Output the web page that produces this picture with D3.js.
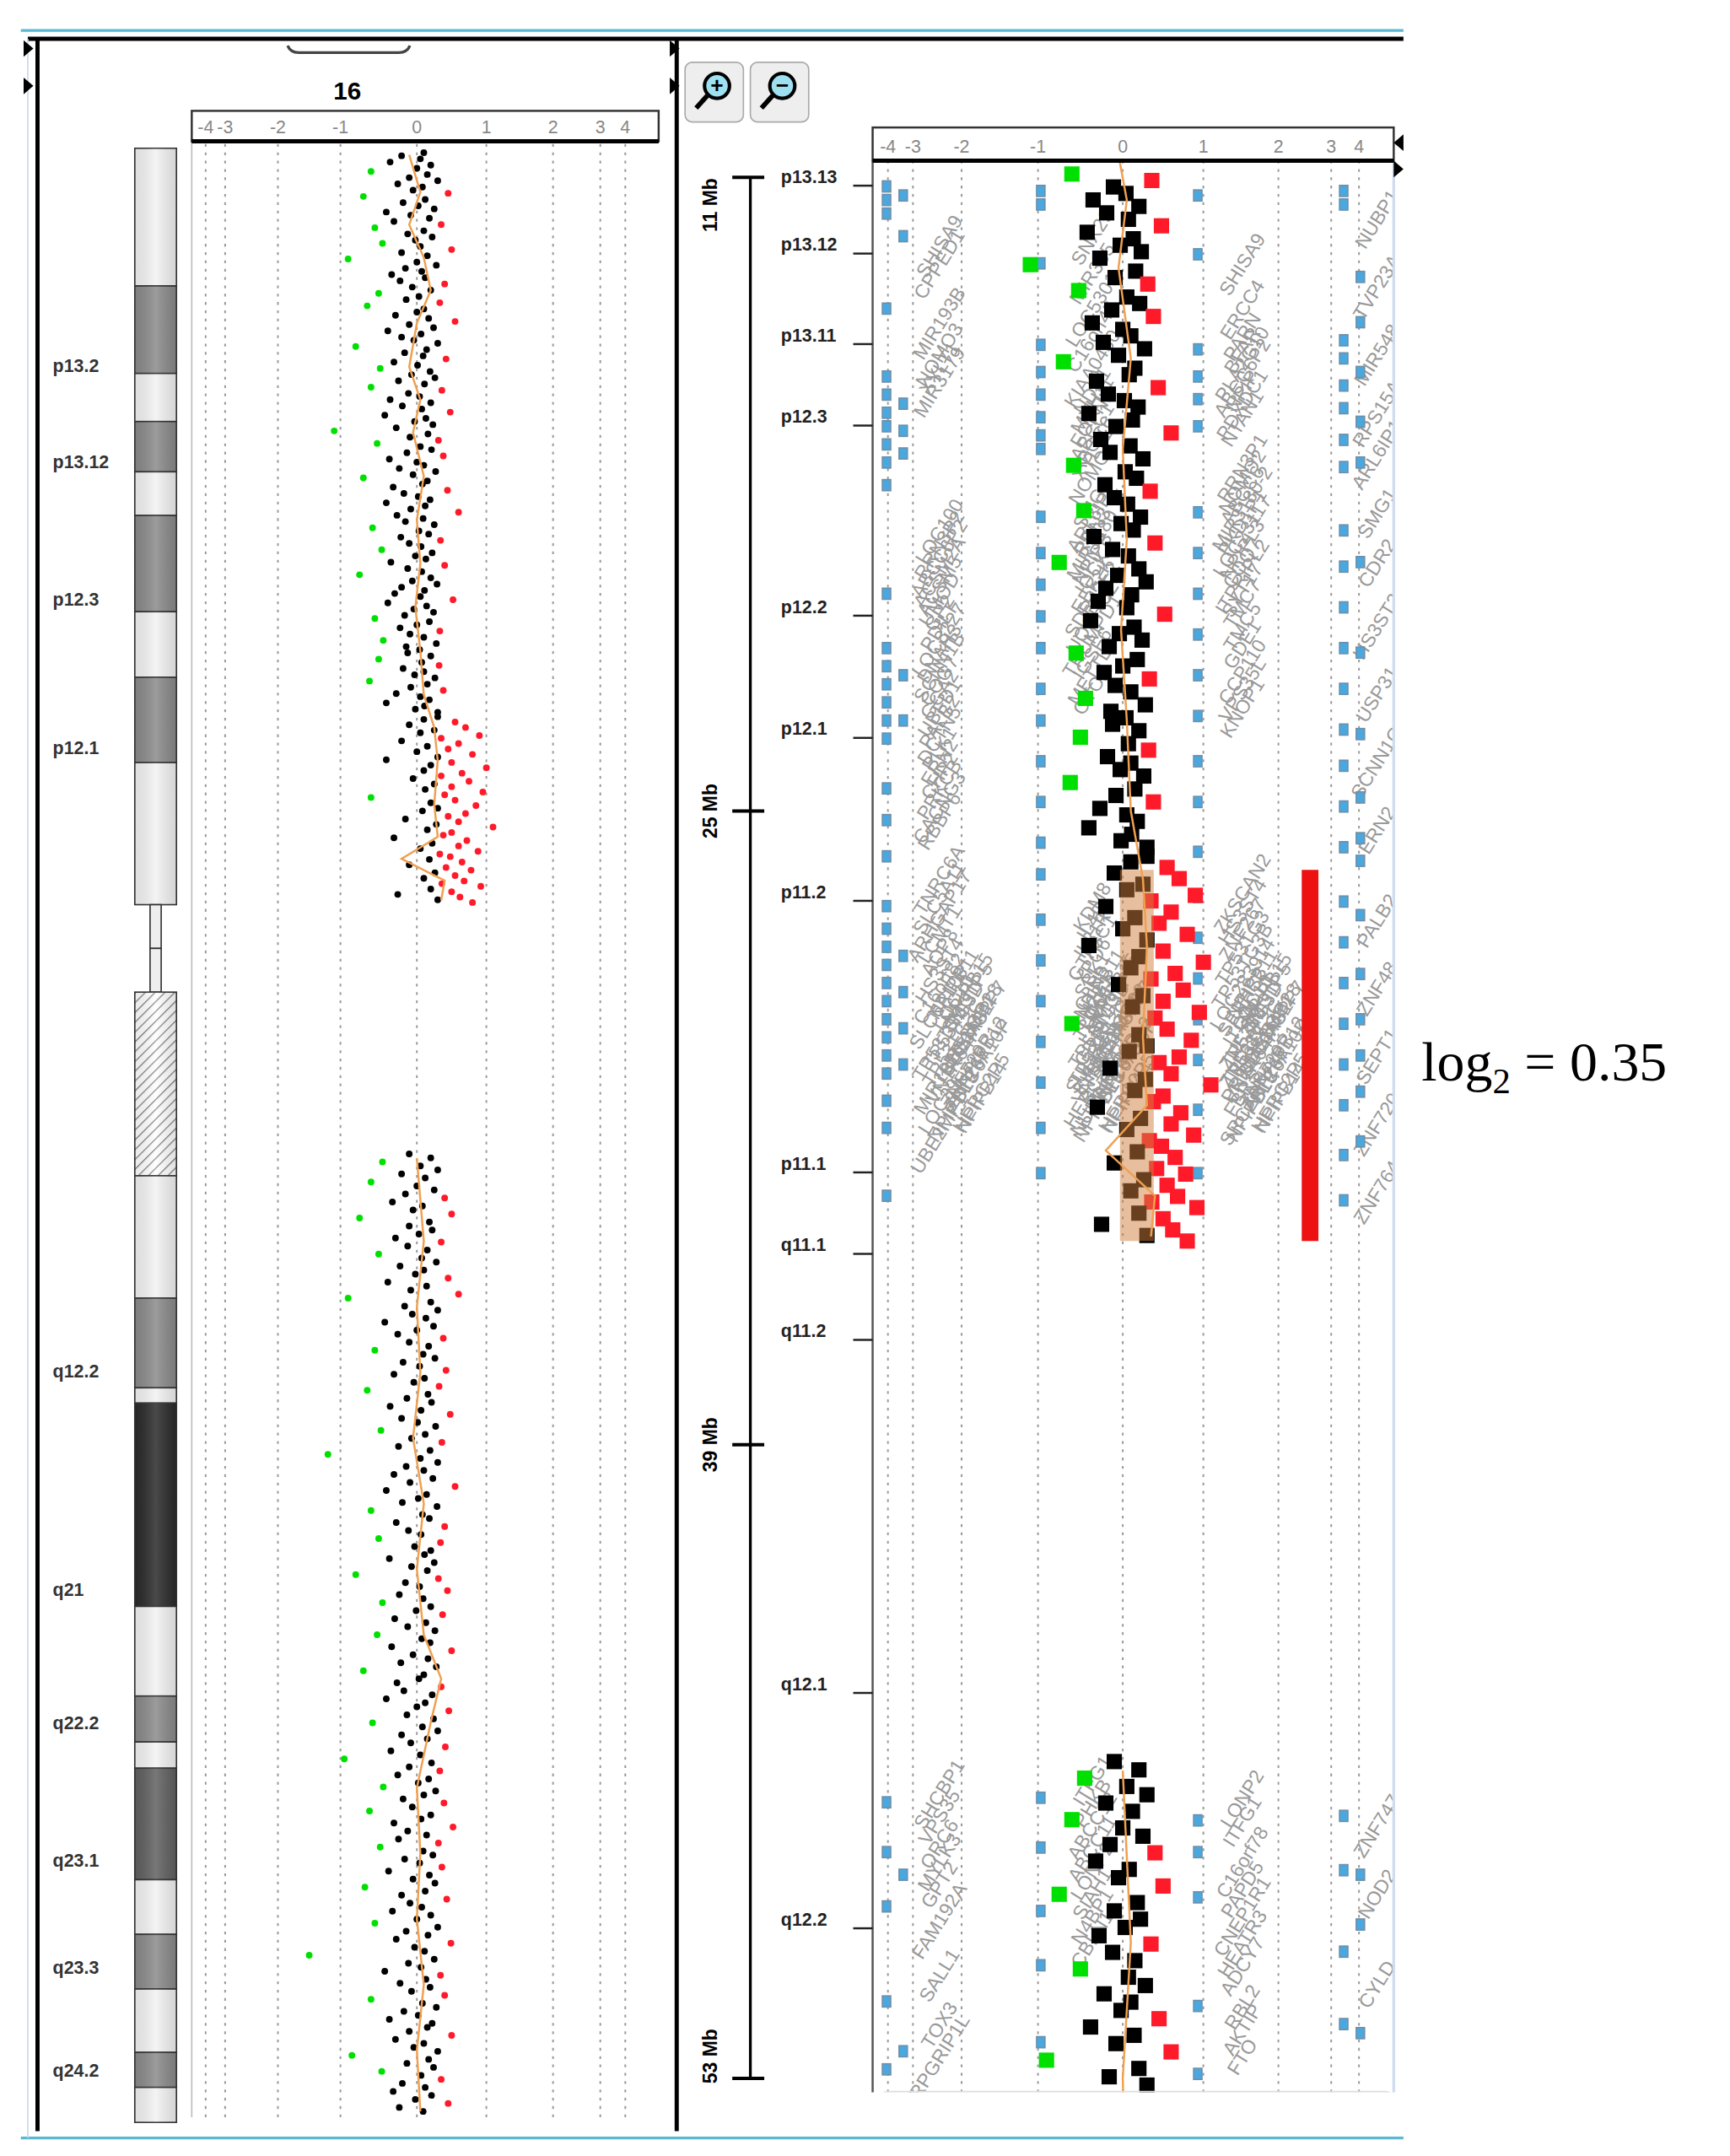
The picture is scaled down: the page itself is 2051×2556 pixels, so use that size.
<!DOCTYPE html>
<html><head><meta charset="utf-8">
<script src="https://cdn.jsdelivr.net/npm/d3@7"></script>
<style>body{margin:0;background:#fff}svg{display:block}</style>
</head><body>
<script>
// ---------- DATA ----------
const tickValues = [-4,-3,-2,-1,0,1,2,3,4];
const tickLabels = ["-4","-3","-2","-1","0","1","2","3","4"];
const bandStart = [0,6.3,10.3,12.5,14.8,16.8,21.2,24.2,28.1,34.6,36.6,38.6,47,52.6,56.7,57.4,66.7,70.8,72.9,74.1,79.2,81.7,84.2,87.1,88.7];
const bandEnd   = [6.3,10.3,12.5,14.8,16.8,21.2,24.2,28.1,34.6,36.6,38.6,47,52.6,56.7,57.4,66.7,70.8,72.9,74.1,79.2,81.7,84.2,87.1,88.7,90.3];
const bandStain = ["gneg","gpos50","gneg","gpos50","gneg","gpos50","gneg","gpos50","gneg","acen","acen","gvar","gneg","gpos50","gneg","gpos100","gneg","gpos50","gneg","gpos75","gneg","gpos50","gneg","gpos50","gneg"];
const leftBandLabels = ["p13.2","p13.12","p12.3","p12.1","q12.2","q21","q22.2","q23.1","q23.3","q24.2"];
const leftBandLabelMb = [9.9,14.3,20.6,27.4,55.9,65.9,72.0,78.3,83.2,87.9];
const rightBandLabels = ["p13.13","p13.12","p13.11","p12.3","p12.2","p12.1","p11.2","p11.1","q11.1","q11.2","q12.1","q12.2"];
const rightBandMb = [11,12.5,14.5,16.3,20.5,23.2,26.8,32.8,34.6,36.5,44.3,49.5];
const mbTicks = [11,25,39,53];

const runStart = [0.2, 26.0, 46.0];
const runEnd   = [25.8, 34.5, 89.8];
const runA = [.1,-.2,.05,-.35,.2,.0,-.6,.15,-.1,.3,-.25,.08,-.05,.45,-.7,.12,-.18,.02,.25,-.4,
-.08,.18,-.3,.35,-.55,.1,-.12,.22,-.02,-.45,.05,.5,-.2,.15,-.9,.0,.28,-.15,.07,-.33,
.12,-.22,.4,-.06,.2,-.5,.03,-.14,.33,-.65,.1,.0,-.28,.17,.55,-.1,.24,-.38,.06,-.2,
-.04,.3,-.8,.14,-.16,.09,.42,-.3,.01,-.48,.19,-.07,.26,-.24,.11,-.6,.36,-.11,.04,-.35,
.2,-.19,.07,.48,-.42,.13,-.03,.23,-.27,-1.1,.16,-.09,.31,-.52,.05,.21,-.13,.38,-.36,.0,
.1,-.23,.27,-.05,-.7,.15,.08,-.31,.44,-.17,.02,.19,-.4,.12,-.08,.6,-.26,.09,-.15,.25,
-.58,.03,.17,-.21,.34,-.1,.06,-.46,.22,-.02,.13,-.34,.4,-.12,.07,-.75,.2,-.06,.29,-.2,
.11,-.29,.05,.52,-.38,.14,-.04,.24,-.16,-.55,.18,.0,-.22,.33,-.09,.1,-.44,.28,-.14,.04,
-.12,.2,-.5,.07,.32,-.18,.1,-.03,.26,-.62,.15,-.08,.38,-.27,.05,.18,-.4,.11,-.02,.3];
const runB = [.3,.1,.55,-.1,.7,.25,.05,.9,.35,-.2,.6,.15,.45,.0,.8,.3,-.4,.5,.2,1.0,
.1,.65,.35,-.05,.75,.25,.5,.12,.95,.4,-.6,.55,.2,.85,.3,.08,.7,.45,-.15,.6,
.28,1.1,.15,.5,.38,-.3,.72,.22,.6,.05,.88,.33,.48,.18,.65,-.1,.42,.78,.26,.55,
.1,.68,.36,.92,.2,.5,-.25,.62,.3,.8];
const runC = [-.1,.2,-.45,.05,.3,-.2,.12,-.6,.0,.25,-.15,.4,-.32,.08,-.05,.5,-.75,.18,-.1,.22,
.03,-.28,.35,-.12,.15,-.5,.07,.28,-.22,.1,-.02,.45,-.38,.14,-.08,.6,-.9,.2,-.16,.3,
-.06,.13,-.42,.24,.0,-.25,.38,-.1,.17,-.55,.09,.26,-.18,.04,.42,-.3,.11,-.04,.32,-.65,
.16,-.13,.21,-.35,.06,.48,-.2,.01,.27,-.47,.12,-.07,.36,-.24,.19,-1.2,.05,.3,-.14,.1,
-.3,.23,-.09,.55,-.4,.14,.02,-.19,.29,-.6,.08,.18,-.27,.4,-.11,.06,-.5,.34,-.03,.2,
.11,-.36,.25,-.07,.15,-.8,.31,-.15,.04,.44,-.23,.09,-.45,.2,-.01,.37,-.29,.13,-.12,.26,
-.52,.07,.19,-.33,.5,-.05,.16,-.21,.28,-.7,.1,.03,-.26,.35,-.17,.22,-.4,.12,.0,.46,
-.13,.24,-.58,.08,.3,-.2,.15,-.08,.41,-.34,.05,-.95,.21,-.1,.33,-.25,.17,.02,-.44,.27,
.1,-.18,.39,-.06,-.62,.2,.06,-.3,.52,-.12,.14,-.24,.31,-.48,.09,.23,-.16,.04,.36,-.37,
.18,-.05,.26,-.68,.12,-.2,.43,-.09,.07,-.32,.2,.0,-.55,.3,-.14,.16,-.27,.49,-.03,.11,
-1.5,.25,-.11,.06,-.42,.34,.13,-.22,.19,-.07,.4,-.6,.08,.28,-.17,.02,-.36,.22,.15,-.1,
.5,-.28,.1,-.04,.3,-.85,.17,-.13,.24,-.46,.06,.35,-.19,.12,-.31,.21,-.02,.45,-.23,.09];
const smoothMb = [0.3,2,3.5,5,6.5,8,10,11.5,13,15,17,19,21,23,25,26.5,28,30,31.5,32.5,33.5,34.4];
const smoothV  = [-0.1,0.05,-0.1,0.1,0.2,0,-0.1,0.05,-0.05,0.1,0,0.05,-0.02,0.05,0.1,0.25,0.3,0.25,0.3,-0.2,0.4,0.35];
const smoothQMb = [46.2,50,53,56,59,62,65,68,70,72,75,78,81,84,87,89.8];
const smoothQV  = [0,0.1,0,0.05,-0.05,0.1,0,0.1,0.35,0.2,0,0.05,0,0.1,0,0.05];
const callStart = 26.3, callEnd = 34.5, callValue = 0.35, callBarValue = 2.6;
const genes1 = ["SHISA9","CPPED1","MIR193B","NOMO3","XYLT1","MIR3179","LOC100","RRN3P2","ABCC6P2","ACSM2A","ACSM5","UMOD","GP2","PDILT","LOC8227","DNAH3","SCNN1B","COG7","GGA2","UBFD1","PALB2","DCTN5","PLK1","ERN2","CHP2","PRKCB","CACNG3","RBBP6","TNRC6A","SLC5A11","ARHGAP17","LCMT1","AQP8","HS3ST4","C16orf82","SLC6A10P","TP53TG3","MIR1826","LOC39","UBE2MP1","SHCBP1","VPS35","ORC6","MYLK3","GPT2","FAM192A","SALL1","TOX3","RPGRIP1L"];
const genes1Mb = [12.6,13.0,14.3,15.0,15.3,15.6,18.9,19.2,19.5,19.8,20.1,20.4,20.7,21.0,21.3,21.6,21.9,22.2,22.5,22.8,23.1,23.4,23.7,24.0,24.3,24.6,25.0,25.3,26.6,27.0,27.4,27.8,28.2,28.6,29.0,29.4,30.2,31.0,31.6,32.2,46.8,47.3,47.9,48.3,48.8,49.6,50.8,51.9,52.6];
const genes2 = ["SNX29","MIR365","LOC5301","C16orf45","KIAA0430","XYLT1","NDE1","MYH11","FOPNL","ABCC1","ABCC6","NOMO1","SMG1","ARL6IP1","RRN3","MIR3180","NPIPB","IQCK","EEF2K","SDR42E2","UQCRC2","THUMPD1","IGSF6","METTL9","OTOA","KDM8","IL4R","IL21R","GTF3C1","XPO6","SBK1","CLN3","SH2B1","TUFM","LAT","CD19","SULT1A1","EIF3C","HERC2P4","NUPR1","ITFG1","PHKB","ABCC12","ABCC11","LONP2","SIAH1","N4BP1","CBLN1"];
const genes2Mb = [12.4,13.2,14.0,14.6,15.3,17.2,15.8,16.1,16.4,16.7,17.0,17.6,18.3,18.6,18.9,19.2,19.5,19.8,20.1,20.4,20.8,21.2,21.6,22.0,22.4,27.2,27.5,27.8,28.1,28.4,28.7,29.0,29.3,29.6,29.9,30.2,30.5,30.8,31.2,31.6,46.5,47.0,47.5,48.0,48.5,49.0,49.5,50.0];
const genes3 = ["SHISA9","ERCC4","PARN","BFAR","PLA2G10","ABCC6P2","NPIP","PDXDC1","NTAN1","RRN3P1","NOMO2","ABCC6","MIR3180-2","PKD1P1","LOC23117","NPIPL3","COQ7","ITPRIPL2","SYT17","TMC7","TMC5","GDE1","CCP110","VPS35L","KNOP1","ZKSCAN2","HS3ST4","ZNF267","TP53TG3","TP53TG3B","LOC283914","SEPHS2","ITGAL","ZNF768","ZNF689","PRR14","FBRS","SRCAP","LONP2","ITFG1","C16orf78","PAPD5","CNEP1R1","HEATR3","ADCY7","RBL2","AKTIP","FTO"];
const genes3Mb = [13.0,14.0,14.6,14.9,15.2,15.5,15.8,16.1,16.4,17.5,17.8,18.1,18.4,18.7,19.0,19.3,19.6,19.9,20.2,20.5,21.0,21.4,22.0,22.4,22.8,26.9,27.3,27.7,28.1,28.5,28.9,29.3,29.7,30.1,30.5,30.9,31.3,31.8,46.9,47.4,48.3,48.9,49.5,50.1,50.6,51.5,52.0,52.6];
const genes4 = ["NUBP1","TVP23A","MIR548","RPS15A","ARL6IP1","SMG1","CDR2","HS3ST2","USP31","SCNN1G","ERN2","PALB2","ZNF48","SEPT1","ZNF720","ZNF764","ZNF747","NOD2","CYLD"];
const genes4Mb = [12.0,13.5,15.0,16.3,17.2,18.5,19.6,21.0,22.5,24.0,25.5,27.5,29.0,30.5,32.0,33.5,47.5,49.0,51.0];
const markA = [11.2,11.5,11.8,13.9,15.4,15.8,16.2,16.5,16.9,17.3,17.8,20.2,21.4,21.8,22.2,22.6,23.0,23.4,24.5,25.2,26.0,27.1,27.6,28.0,28.4,28.8,29.2,29.6,30.0,30.4,30.8,31.4,32.0,33.5,46.9,48.0,49.2,51.3,52.8];
const markB = [11.4,12.3,16.0,16.6,17.1,22.0,23.0,28.2,29.0,29.8,30.6,48.5,52.4];
const markC = [11.3,11.6,12.9,14.7,15.3,15.8,16.3,16.7,17.0,18.5,19.3,20.0,20.7,21.4,22.3,23.0,23.9,24.8,25.7,26.4,27.4,28.3,29.2,30.1,31.0,32.0,33.0,46.8,47.9,49.3,50.5,52.2];
const markD = [11.4,12.7,14.8,15.4,15.9,16.5,18.4,19.3,20.2,21.1,22.0,22.9,23.9,24.8,25.9,26.9,27.8,28.7,29.6,30.5,31.6,33.0,47.3,48.0,49.0,51.4,52.9];
const markE = [11.3,11.6,14.6,15.0,15.6,16.1,16.8,17.4,18.8,19.6,20.5,21.4,22.3,23.2,24.0,24.9,25.8,27.0,27.9,28.8,29.7,30.6,31.5,32.6,33.6,47.2,48.4,50.2,51.8];
const markF = [13.2,14.2,15.3,16.4,17.3,19.5,21.5,23.3,24.7,25.6,26.1,27.3,28.6,29.6,30.4,31.2,32.3,48.5,49.6,52.0];

// ---------- DRAW ----------
const W = 2051, H = 2556, S = 2051/1245;
const svg = d3.select("body").append("svg").attr("width", W).attr("height", H);
const g = svg.append("g").attr("transform", `scale(${S},${H/1556})`);
const FONT = "Liberation Sans, Arial, sans-serif";

const probes = [];
[runA, runB, runC].forEach((arr, k) => {
  const n = arr.length;
  arr.forEach((v, i) => probes.push({mb: runStart[k] + i*(runEnd[k]-runStart[k])/(n-1), v}));
});
const colorOf = v => v < -0.42 ? "#00e000" : v > 0.3 ? "#ff1a2a" : "#000";

g.append("line").attr("x1",15).attr("x2",1010).attr("y1",22).attr("y2",22).attr("stroke","#5ab8d0").attr("stroke-width",2);
g.append("line").attr("x1",15).attr("x2",1010).attr("y1",1543).attr("y2",1543).attr("stroke","#5ab8d0").attr("stroke-width",2);
g.append("line").attr("x1",20).attr("x2",1010).attr("y1",28).attr("y2",28).attr("stroke","#000").attr("stroke-width",3);
g.append("line").attr("x1",27).attr("x2",27).attr("y1",28).attr("y2",1538).attr("stroke","#000").attr("stroke-width",3);
g.append("line").attr("x1",487).attr("x2",487).attr("y1",28).attr("y2",1538).attr("stroke","#000").attr("stroke-width",3);
g.append("line").attr("x1",20).attr("x2",20).attr("y1",28).attr("y2",1543).attr("stroke","#c8d8ee").attr("stroke-width",1);
[[17,35],[17,62],[482,35],[482,62]].forEach(([x,y])=>{
  g.append("path").attr("d",`M${x},${y-6}L${x+7},${y}L${x},${y+6}Z`).attr("fill","#000");
});
g.append("path").attr("d","M207,33 Q209,38 215,38 L287,38 Q293,38 295,33").attr("fill","none").attr("stroke","#444").attr("stroke-width",2);
g.append("text").attr("x",250).attr("y",72).attr("text-anchor","middle").attr("font-family",FONT).attr("font-weight","bold").attr("font-size",18).text("16");

// ---------- LEFT PANEL ----------
const yL = d3.scaleLinear().domain([0,90]).range([107,1527]);
const xL = d3.scaleLinear().domain(tickValues).range([148,162,200,245,300,350,398,432,450]);
function axisBox(x0,x1,y0,y1,xs){
  g.append("rect").attr("x",x0).attr("y",y0).attr("width",x1-x0).attr("height",y1-y0).attr("fill","#fff").attr("stroke","#333").attr("stroke-width",1.5);
  g.append("line").attr("x1",x0).attr("x2",x1).attr("y1",y1).attr("y2",y1).attr("stroke","#000").attr("stroke-width",3);
  tickValues.forEach((t,i)=>g.append("text").attr("x",xs(t)).attr("y",y1-6).attr("text-anchor","middle")
    .attr("font-family",FONT).attr("font-size",13).attr("fill","#888").text(tickLabels[i]));
}
tickValues.forEach(t=>g.append("line").attr("x1",xL(t)).attr("x2",xL(t)).attr("y1",104).attr("y2",1528)
  .attr("stroke","#999").attr("stroke-width",1.2).attr("stroke-dasharray","2,4"));
g.append("line").attr("x1",138).attr("x2",138).attr("y1",100).attr("y2",1528).attr("stroke","#bbb");
axisBox(138,474,80,102,xL);

const stainFill = {gneg:"#f2f2f2",gpos25:"#c8c8c8",gpos50:"#8a8a8a",gpos75:"#606060",gpos100:"#2a2a2a",gvar:"#fff",acen:"#fff"};
const defs = svg.append("defs");
const pat = defs.append("pattern").attr("id","hatch").attr("width",5).attr("height",5).attr("patternUnits","userSpaceOnUse").attr("patternTransform","rotate(45)");
pat.append("rect").attr("width",5).attr("height",5).attr("fill","#fff");
pat.append("line").attr("x1",0).attr("x2",0).attr("y1",0).attr("y2",5).attr("stroke","#777").attr("stroke-width",1.5);
const gradD = defs.append("linearGradient").attr("id","shade");
gradD.append("stop").attr("offset","0").attr("stop-color","#000").attr("stop-opacity",0.08);
gradD.append("stop").attr("offset","0.5").attr("stop-color","#fff").attr("stop-opacity",0.15);
gradD.append("stop").attr("offset","1").attr("stop-color","#000").attr("stop-opacity",0.12);
bandStart.forEach((s,i)=>{
  const st = bandStain[i];
  const y0 = yL(s), y1 = yL(bandEnd[i]);
  if (st==="acen"){
    g.append("rect").attr("x",108).attr("y",y0).attr("width",8).attr("height",y1-y0).attr("fill","#eee").attr("stroke","#333");
    return;
  }
  g.append("rect").attr("x",97).attr("y",y0).attr("width",30).attr("height",y1-y0)
    .attr("fill", st==="gvar" ? "url(#hatch)" : stainFill[st]).attr("stroke","#333").attr("stroke-width",1);
  g.append("rect").attr("x",97).attr("y",y0).attr("width",30).attr("height",y1-y0).attr("fill","url(#shade)");
});
leftBandLabels.forEach((l,i)=>g.append("text").attr("x",38).attr("y",yL(leftBandLabelMb[i])+5)
  .attr("font-family",FONT).attr("font-weight","bold").attr("font-size",13).attr("fill","#333").text(l));

g.append("g").selectAll("circle").data(probes).join("circle")
  .attr("cx",d=>xL(d.v)).attr("cy",d=>yL(d.mb)).attr("r",2.4).attr("fill",d=>colorOf(d.v));
const lineL = d3.line().x(d=>xL(d[1])).y(d=>yL(d[0]));
g.append("path").attr("d",lineL(smoothMb.map((m,i)=>[m,smoothV[i]]))).attr("fill","none").attr("stroke","#f0a050").attr("stroke-width",1.5);
g.append("path").attr("d",lineL(smoothQMb.map((m,i)=>[m,smoothQV[i]]))).attr("fill","none").attr("stroke","#f0a050").attr("stroke-width",1.5);

// ---------- RIGHT PANEL ----------
[[493,"+"],[540,"-"]].forEach(([x,s])=>{
  g.append("rect").attr("x",x).attr("y",45).attr("width",42).attr("height",43).attr("rx",5).attr("fill","#eee").attr("stroke","#aaa");
  g.append("circle").attr("cx",x+23).attr("cy",62).attr("r",9).attr("fill","#9fe0f0").attr("stroke","#000").attr("stroke-width",2.5);
  g.append("line").attr("x1",x+16).attr("y1",69).attr("x2",x+8).attr("y2",78).attr("stroke","#000").attr("stroke-width",3.5);
  g.append("text").attr("x",x+23).attr("y",67).attr("text-anchor","middle").attr("font-family",FONT).attr("font-weight","bold").attr("font-size",16).text(s==="+"?"+":"−");
});
const yR = d3.scaleLinear().domain([11,53]).range([128,1500]);
const xR = d3.scaleLinear().domain(tickValues).range([639,657,692,747,808,866,920,958,978]);
const clip = defs.append("clipPath").attr("id","rclip");
clip.append("rect").attr("x",628).attr("y",116).attr("width",375).attr("height",1394);
const R = g.append("g").attr("clip-path","url(#rclip)");
R.append("rect").attr("x",628).attr("y",116).attr("width",375).attr("height",1394).attr("fill","#fff");
tickValues.forEach(t=>R.append("line").attr("x1",xR(t)).attr("x2",xR(t)).attr("y1",116).attr("y2",1510)
  .attr("stroke","#999").attr("stroke-width",1.2).attr("stroke-dasharray","2,4"));
[[genes1,genes1Mb,680],[genes2,genes2Mb,790],[genes3,genes3Mb,898],[genes4,genes4Mb,995]].forEach(([names,mbs,x])=>{
  names.forEach((n,i)=>R.append("text").attr("transform",`translate(${x},${yR(mbs[i])}) rotate(-58)`)
    .attr("font-family",FONT).attr("font-size",14).attr("fill","#999").attr("text-anchor","middle").text(n));
});
const clusterNames = ["NPIPB11","SMG1P5","LOC28","TP53TG3D","SLC6A8P","NPIPB12","VN1R64P","ZNF267","HERC2P5","NPIPB13","NPIPB15","SMG1P7","TP53TG3C","ZNF720P","NPIPB14","LOC10","UBE2MP1","SLC6A10P"];
const clusterMb = [28.9,29.2,29.5,29.8,30.1,30.4,30.7,31.0,31.3,31.6,29.0,29.6,30.2,30.8,31.4,29.3,30.0,30.6];
[700,805,915].forEach(x=>clusterNames.forEach((n,i)=>R.append("text")
  .attr("transform",`translate(${x+((i%3)-1)*10},${yR(clusterMb[i])}) rotate(-58)`)
  .attr("font-family",FONT).attr("font-size",14).attr("fill","#9a9a9a").attr("text-anchor","middle").text(n)));
[[markA,638],[markB,650],[markC,749],[markD,862],[markE,967],[markF,979]].forEach(([arr,x])=>{
  arr.forEach(m=>{
    R.append("rect").attr("x",x-3).attr("y",yR(m)-4).attr("width",6).attr("height",8).attr("fill","#4aa8e0").attr("stroke","#6f8fa8").attr("stroke-width",1);
  });
});
const inR = probes.filter(d=>d.mb>=10.8 && d.mb<=53.3);
R.append("g").selectAll("rect").data(inR).join("rect")
  .attr("x",d=>xR(d.v)-5.5).attr("y",d=>yR(d.mb)-5.5).attr("width",11).attr("height",11)
  .attr("fill",d=>colorOf(d.v));
const lineR = d3.line().x(d=>xR(d[1])).y(d=>yR(d[0]));
R.append("rect").attr("x",xR(0)-2).attr("y",yR(callStart)).attr("width",xR(callValue)-xR(0)+4).attr("height",yR(callEnd)-yR(callStart))
  .attr("fill","#d08040").attr("opacity",0.5);
R.append("path").attr("d",lineR(smoothMb.map((m,i)=>[m,smoothV[i]]))).attr("fill","none").attr("stroke","#f0a050").attr("stroke-width",1.5);
R.append("path").attr("d",lineR(smoothQMb.map((m,i)=>[m,smoothQV[i]]))).attr("fill","none").attr("stroke","#f0a050").attr("stroke-width",1.5);
R.append("rect").attr("x",xR(callBarValue)-6).attr("y",yR(callStart)).attr("width",12).attr("height",yR(callEnd)-yR(callStart)).attr("fill","#ee1111");
R.append("rect").attr("x",632).attr("y",1509).attr("width",372).attr("height",14).attr("rx",7).attr("fill","#ddd");
g.append("line").attr("x1",628).attr("x2",628).attr("y1",116).attr("y2",1510).attr("stroke","#555").attr("stroke-width",1.5);
g.append("line").attr("x1",1003).attr("x2",1003).attr("y1",116).attr("y2",1510).attr("stroke","#cfdcef").attr("stroke-width",2);
axisBox(628,1003,92,116,xR);
g.append("path").attr("d","M1010,97L1003,103L1010,109Z").attr("fill","#000");
g.append("path").attr("d","M1003,116L1010,122L1003,128Z").attr("fill","#000");

g.append("line").attr("x1",540).attr("x2",540).attr("y1",yR(11)).attr("y2",yR(53)).attr("stroke","#000").attr("stroke-width",2);
mbTicks.forEach((m,i)=>{
  g.append("line").attr("x1",527).attr("x2",550).attr("y1",yR(m)).attr("y2",yR(m)).attr("stroke","#000").attr("stroke-width",2.5);
  const ty = i===0 ? yR(m)+20 : (i===mbTicks.length-1 ? yR(m)-16 : yR(m));
  g.append("text").attr("transform",`translate(516,${ty}) rotate(-90)`).attr("text-anchor","middle")
    .attr("font-family",FONT).attr("font-weight","bold").attr("font-size",14).text(m+" Mb");
});
rightBandLabels.forEach((l,i)=>{
  const y = yR(rightBandMb[i]);
  g.append("text").attr("x",562).attr("y",y+4).attr("font-family",FONT).attr("font-weight","bold").attr("font-size",13).attr("fill","#222").text(l);
  g.append("line").attr("x1",614).attr("x2",628).attr("y1",y+6).attr("y2",y+6).attr("stroke","#222").attr("stroke-width",1.5);
});

const ann = g.append("text").attr("x",1023).attr("y",780).attr("font-family","Liberation Serif, Times New Roman, serif").attr("font-size",40);
ann.append("tspan").text("log");
ann.append("tspan").attr("font-size",26).attr("dy",9).text("2");
ann.append("tspan").attr("dy",-9).text(" = " + callValue);
</script>
</body></html>
